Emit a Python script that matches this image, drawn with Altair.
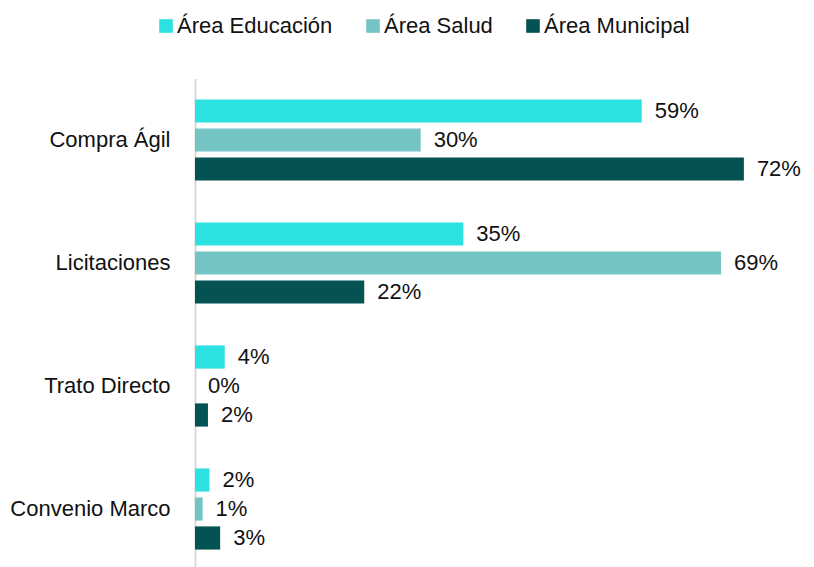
import altair as alt
import pandas as pd

categories = ["Compra Ágil", "Licitaciones", "Trato Directo", "Convenio Marco"]
series = ["Área Educación", "Área Salud", "Área Municipal"]
educacion = [0.586, 0.352, 0.039, 0.019]
salud = [0.296, 0.690, 0.0, 0.010]
municipal = [0.720, 0.222, 0.017, 0.033]
colors = ["#2CE2E0", "#74C4C4", "#045252"]

rows = []
for i, c in enumerate(categories):
    for s, vals in zip(series, [educacion, salud, municipal]):
        rows.append({"cat": c, "serie": s, "val": vals[i]})
df = pd.DataFrame(rows)

FONT = "Liberation Sans, Arial, sans-serif"
TXT = "#111111"
FS = 22

y = alt.Y(
    "cat:N", sort=categories, title=None,
    scale=alt.Scale(paddingInner=0.293, paddingOuter=0.1465),
    axis=alt.Axis(labelFont=FONT, labelFontSize=FS, labelColor=TXT, labelPadding=25,
                  ticks=False, domainColor="#D9D9D9", domainWidth=2, labelLimit=300),
)
yoff = alt.YOffset("serie:N", sort=series, scale=alt.Scale(paddingInner=0.2, paddingOuter=0.1))
x = alt.X("val:Q", scale=alt.Scale(domain=[0, 0.77]), axis=None)
color = alt.Color(
    "serie:N", sort=series,
    scale=alt.Scale(domain=series, range=colors),
    legend=alt.Legend(
        orient="none", legendX=-40, legendY=-63.5, direction="horizontal", title=None,
        padding=0, symbolType="square", symbolSize=185, symbolStrokeWidth=0,
        labelFont=FONT, labelFontSize=FS, labelColor=TXT, columnPadding=29, labelOffset=0,
        labelLimit=400,
    ),
)

bars = alt.Chart(df).mark_bar().encode(y=y, yOffset=yoff, x=x, color=color)
labels = alt.Chart(df).mark_text(
    align="left", baseline="middle", dx=13, font=FONT, fontSize=FS, color=TXT
).encode(y=y, yOffset=yoff, x=x, text=alt.Text("val:Q", format=".0%"))

chart = (
    alt.layer(bars, labels)
    .properties(
        width=587, height=492,
        autosize=alt.AutoSizeParams(type="none"),
        padding={"left": 187, "top": 70.5, "right": 24, "bottom": 0},
    )
    .configure_view(stroke=None)
)

chart.save("out.html", embed_options={"renderer": "svg", "actions": False})
